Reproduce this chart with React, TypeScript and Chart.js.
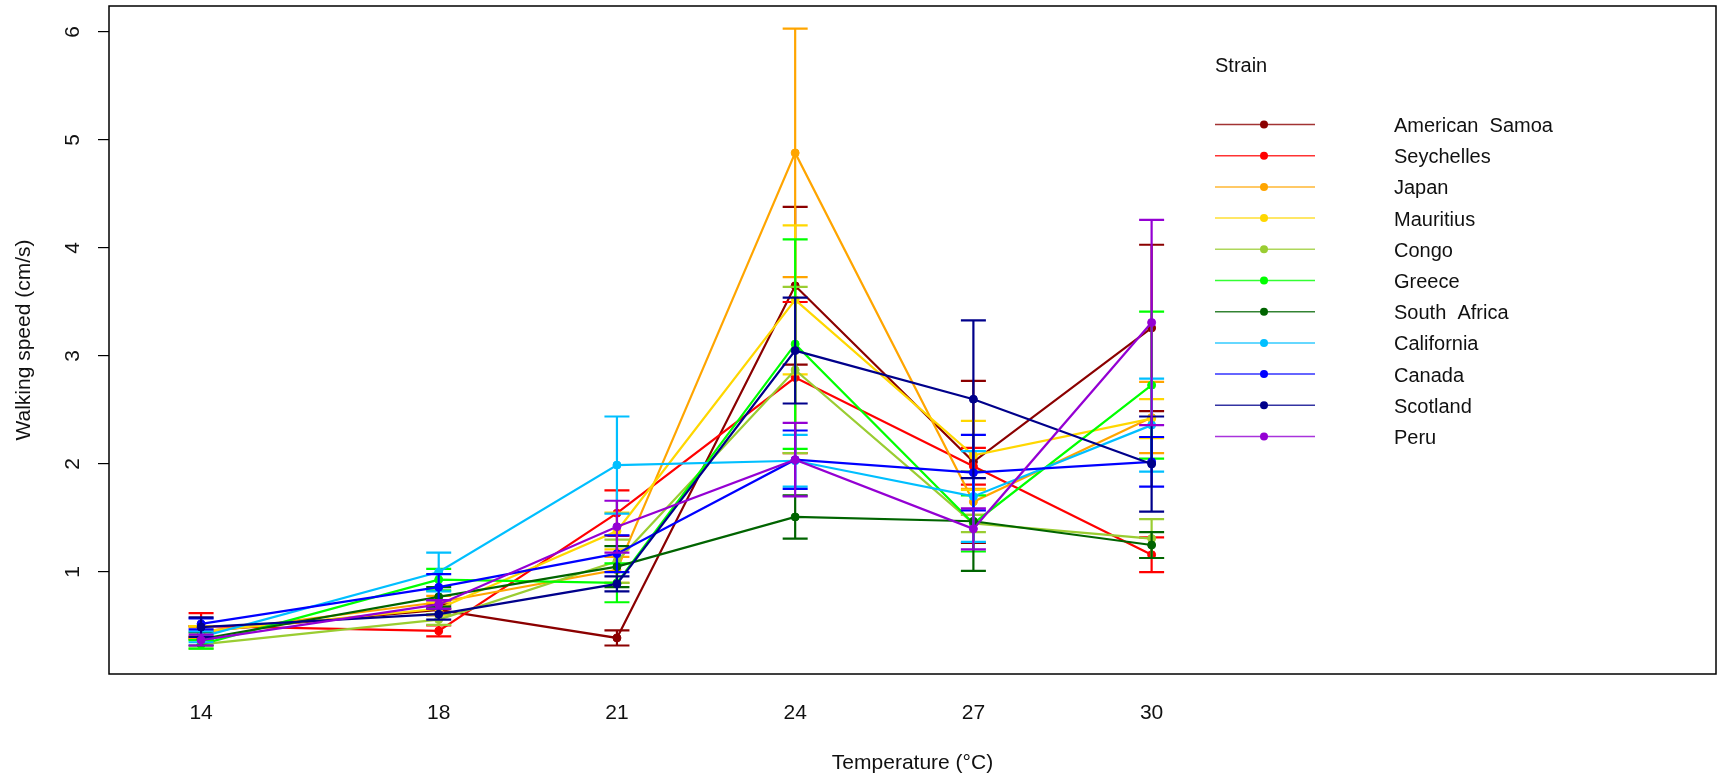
import { useEffect, useRef } from "react";
import { Chart, registerables } from "chart.js";

Chart.register(...registerables);

// ---------- data ----------
const temperatures = [14, 18, 21, 24, 27, 30];
const yTickValues = [1, 2, 3, 4, 5, 6];

const strainNames = [
  "American  Samoa",
  "Seychelles",
  "Japan",
  "Mauritius",
  "Congo",
  "Greece",
  "South  Africa",
  "California",
  "Canada",
  "Scotland",
  "Peru",
];

const strainColors = [
  "#8B0000",
  "#FF0000",
  "#FFA500",
  "#FFD700",
  "#9ACD32",
  "#00FF00",
  "#006400",
  "#00BFFF",
  "#0000FF",
  "#00008B",
  "#9400D3",
];

// mean walking speed (cm/s) per temperature
const americanSamoa = [0.45, 0.65, 0.39, 3.65, 2.02, 3.26];
const seychelles = [0.5, 0.455, 1.545, 2.8, 1.98, 1.16];
const japan = [0.44, 0.72, 1.02, 4.88, 1.65, 2.43];
const mauritius = [0.45, 0.66, 1.38, 3.52, 2.08, 2.42];
const congo = [0.33, 0.56, 1.1, 2.87, 1.45, 1.31];
const greece = [0.33, 0.93, 0.9, 3.11, 1.45, 2.73];
const southAfrica = [0.38, 0.77, 1.05, 1.51, 1.47, 1.25];
const california = [0.4, 1.0, 1.99, 2.03, 1.7, 2.36];
const canada = [0.52, 0.86, 1.17, 2.04, 1.92, 2.02];
const scotland = [0.49, 0.61, 0.89, 3.05, 2.6, 2.0];
const peru = [0.37, 0.7, 1.42, 2.04, 1.4, 3.31];

// error bar half-lengths
const americanSamoaErr = [0.05, 0.05, 0.07, 0.73, 0.75, 0.77];
const seychellesErr = [0.12, 0.05, 0.21, 0.7, 0.17, 0.16];
const japanErr = [0.05, 0.06, 0.12, 1.15, 0.12, 0.33];
const mauritiusErr = [0.05, 0.06, 0.17, 0.69, 0.32, 0.18];
const congoErr = [0.04, 0.05, 0.2, 0.77, 0.08, 0.18];
const greeceErr = [0.04, 0.1, 0.18, 0.97, 0.26, 0.68];
const southAfricaErr = [0.06, 0.09, 0.19, 0.2, 0.46, 0.12];
const californiaErr = [0.05, 0.18, 0.45, 0.24, 0.42, 0.43];
const canadaErr = [0.05, 0.12, 0.17, 0.27, 0.35, 0.23];
const scotlandErr = [0.09, 0.05, 0.07, 0.49, 0.73, 0.44];
const peruErr = [0.05, 0.04, 0.24, 0.34, 0.19, 0.95];

const means = [
  americanSamoa, seychelles, japan, mauritius, congo, greece,
  southAfrica, california, canada, scotland, peru,
];
const errors = [
  americanSamoaErr, seychellesErr, japanErr, mauritiusErr, congoErr, greeceErr,
  southAfricaErr, californiaErr, canadaErr, scotlandErr, peruErr,
];

const legendTitle = "Strain";
const xTitle = "Temperature (\u00B0C)";
const yTitle = "Walking speed (cm/s)";

const FONT = "'Liberation Sans', Arial, Helvetica, sans-serif";
const FONT_SIZE = 21;
const LEGEND_FONT_SIZE = 20;
const TEXT_COLOR = "#111";

export default function App() {
  const ref = useRef<HTMLCanvasElement>(null);

  useEffect(() => {
    const canvas = ref.current;
    if (!canvas) return;

    const datasets: any[] = strainNames.map((name, i) => ({
      label: name,
      data: temperatures.map((t, j) => ({ x: t, y: means[i][j] })),
      errs: errors[i],
      borderColor: strainColors[i],
      backgroundColor: strainColors[i],
      pointBackgroundColor: strainColors[i],
      pointBorderColor: strainColors[i],
      pointRadius: 4,
      pointBorderWidth: 1,
      borderWidth: 2.2,
      showLine: true,
      tension: 0,
      order: strainNames.length - i,
    }));

    const errorBarPlugin = {
      id: "errorBars",
      afterDatasetDraw(chart: any, args: any) {
        const ds = chart.data.datasets[args.index];
        const xs = chart.scales.x;
        const ys = chart.scales.y;
        const ctx = chart.ctx;
        ctx.save();
        ctx.strokeStyle = ds.borderColor;
        ctx.lineWidth = 2.2;
        const cap = 12.5;
        ds.data.forEach((p: any, j: number) => {
          const e = ds.errs[j];
          const px = xs.getPixelForValue(p.x);
          const top = ys.getPixelForValue(p.y + e);
          const bot = ys.getPixelForValue(p.y - e);
          ctx.beginPath();
          ctx.moveTo(px, top);
          ctx.lineTo(px, bot);
          ctx.moveTo(px - cap, top);
          ctx.lineTo(px + cap, top);
          ctx.moveTo(px - cap, bot);
          ctx.lineTo(px + cap, bot);
          ctx.stroke();
        });
        ctx.restore();
      },
    };

    const decorPlugin = {
      id: "decor",
      afterDraw(chart: any) {
        const ctx = chart.ctx;
        const area = chart.chartArea;
        const ys = chart.scales.y;
        ctx.save();
        // plot box
        ctx.strokeStyle = "#000";
        ctx.lineWidth = 1.5;
        ctx.strokeRect(area.left, area.top, area.right - area.left, area.bottom - area.top);

        // rotated y tick labels (R style)
        ctx.fillStyle = TEXT_COLOR;
        ctx.font = `${FONT_SIZE}px ${FONT}`;
        ctx.textAlign = "center";
        ctx.textBaseline = "middle";
        yTickValues.forEach((v) => {
          const py = ys.getPixelForValue(v);
          ctx.save();
          ctx.translate(73, py);
          ctx.rotate(-Math.PI / 2);
          ctx.fillText(String(v), 0, 0);
          ctx.restore();
        });

        // legend
        const lx0 = 1215;
        const lx1 = 1315;
        const ptx = 1264;
        const textX = 1394;
        const row0 = 124.5;
        const rowStep = 31.2;
        ctx.font = `${LEGEND_FONT_SIZE}px ${FONT}`;
        ctx.textAlign = "left";
        ctx.fillText(legendTitle, 1215, 66);
        chart.data.datasets.forEach((ds: any, i: number) => {
          const ry = row0 + i * rowStep;
          ctx.save();
          ctx.globalAlpha = 0.8;
          ctx.strokeStyle = ds.borderColor;
          ctx.lineWidth = 1.5;
          ctx.beginPath();
          ctx.moveTo(lx0, ry);
          ctx.lineTo(lx1, ry);
          ctx.stroke();
          ctx.restore();
          ctx.fillStyle = ds.borderColor;
          ctx.beginPath();
          ctx.arc(ptx, ry, 4, 0, Math.PI * 2);
          ctx.fill();
          ctx.fillStyle = TEXT_COLOR;
          ctx.fillText(ds.label, textX, ry + 2);
        });
        ctx.restore();
      },
    };

    const chart = new Chart(canvas, {
      type: "line",
      data: { datasets },
      plugins: [errorBarPlugin, decorPlugin],
      options: {
        animation: false,
        responsive: false,
        maintainAspectRatio: false,
        layout: { padding: { top: 6, right: 6, left: 0, bottom: 0 } },
        plugins: {
          legend: { display: false },
          tooltip: { enabled: false },
          title: { display: false },
        },
        scales: {
          x: {
            type: "linear",
            min: 12.45,
            max: 39.5,
            afterBuildTicks: (scale: any) => {
              scale.ticks = temperatures.map((t) => ({ value: t }));
            },
            afterFit: (scale: any) => {
              scale.height = 102;
            },
            grid: { display: false, drawTicks: false },
            border: { display: false },
            ticks: {
              padding: 27,
              color: TEXT_COLOR,
              font: { size: FONT_SIZE, family: FONT },
              maxRotation: 0,
              minRotation: 0,
              autoSkip: false,
              callback: (v: any) => String(v),
            },
            title: {
              display: true,
              text: xTitle,
              color: TEXT_COLOR,
              font: { size: FONT_SIZE, family: FONT },
              padding: { top: 0, bottom: 0 },
            },
          },
          y: {
            type: "linear",
            min: 0.056,
            max: 6.24,
            afterBuildTicks: (scale: any) => {
              scale.ticks = yTickValues.map((v) => ({ value: v }));
            },
            afterFit: (scale: any) => {
              scale.width = 109;
            },
            grid: {
              display: true,
              drawOnChartArea: false,
              drawTicks: true,
              tickLength: 11,
              color: "#000",
              lineWidth: 1.2,
            },
            border: { display: false },
            ticks: { display: false },
            title: {
              display: true,
              text: yTitle,
              color: TEXT_COLOR,
              font: { size: FONT_SIZE, family: FONT },
              padding: { top: 12, bottom: 0 },
            },
          },
        },
      } as any,
    });

    return () => chart.destroy();
  }, []);

  return (
    <div style={{ position: "fixed", left: 0, top: 0, width: 1722, height: 776, background: "#fff" }}>
      <canvas ref={ref} width={1722} height={776} style={{ display: "block" }} />
    </div>
  );
}
